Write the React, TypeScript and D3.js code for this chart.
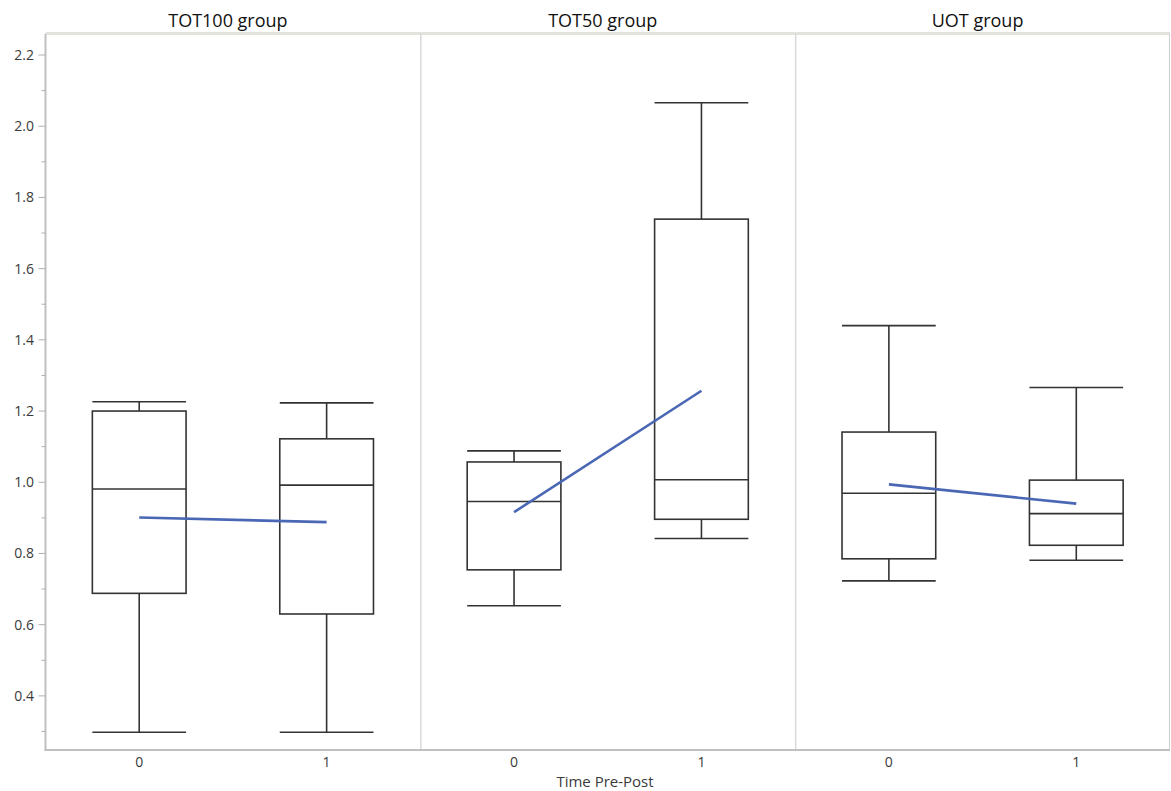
import React from 'react'
import * as d3 from 'd3'

// panels + x categories
const groups = ['TOT100 group', 'TOT50 group', 'UOT group']
const times = ['0', '1']

// box stats per group, [time 0, time 1]
const whiskerHigh = [[1.226, 1.223], [1.088, 2.066], [1.440, 1.266]]
const q3 = [[1.200, 1.122], [1.057, 1.739], [1.141, 1.006]]
const median = [[0.981, 0.992], [0.946, 1.007], [0.969, 0.912]]
const q1 = [[0.688, 0.630], [0.754, 0.896], [0.785, 0.823]]
const whiskerLow = [[0.298, 0.298], [0.653, 0.842], [0.723, 0.781]]
const means = [[0.901, 0.888], [0.916, 1.257], [0.994, 0.940]]

const xAxisTitle = 'Time Pre-Post'

const width = 1171
const height = 791
const left = 45.5
const right = 1170
const top = 34
const bottom = 750

const font = '"Open Sans", "Noto Sans", sans-serif'

export default function App() {
  const yScale = d3.scaleLinear().domain([0.248, 2.259]).range([bottom, top])
  const majorTicks = yScale.ticks(10)
  const minorTicks = yScale.ticks(20).filter(t => !majorTicks.some(m => Math.abs(m - t) < 1e-6))

  const panelScale = d3.scaleBand().domain(groups).range([left, right]).padding(0)
  const pw = panelScale.bandwidth()
  const xScale = d3.scalePoint().domain(times).range([0, pw]).padding(0.5)
  const boxW = pw / 4

  const line = d3.line<[string, number]>()
    .x(d => xScale(d[0]) as number)
    .y(d => yScale(d[1]))

  return (
    <svg width={width} height={height} style={{ position: 'absolute', left: 0, top: 0, background: '#fff' }}>
      {/* top band */}
      <rect x={left} y={top - 2} width={right - left} height={3} fill="#e4e3db" />
      {/* right border */}
      <line x1={right - 0.5} x2={right - 0.5} y1={top} y2={bottom} stroke="#d0d0d0" />

      {/* panel dividers */}
      {groups.slice(1).map(g => (
        <line key={g} x1={(panelScale(g) as number) + 0.5} x2={(panelScale(g) as number) + 0.5}
          y1={top} y2={bottom} stroke="#d9d9d9" strokeWidth={1.5} />
      ))}

      {/* y axis */}
      <line x1={left} x2={left} y1={top} y2={bottom + 1} stroke="#c0c0c0" strokeWidth={2} />
      {majorTicks.map(t => (
        <g key={'M' + t}>
          <line x1={left - 7} x2={left} y1={yScale(t)} y2={yScale(t)} stroke="#b0b0b0" strokeWidth={1} />
          <text x={34} y={yScale(t)} dy="0.35em" textAnchor="end" fontFamily={font}
            fontSize={14} fill="#3a3a3a">{t.toFixed(1)}</text>
        </g>
      ))}
      {minorTicks.map(t => (
        <line key={'m' + t} x1={left - 4} x2={left} y1={yScale(t)} y2={yScale(t)} stroke="#b0b0b0" strokeWidth={1} />
      ))}

      {/* x axis */}
      <line x1={left - 1} x2={right} y1={bottom} y2={bottom} stroke="#c0c0c0" strokeWidth={2} />

      {groups.map((g, gi) => {
        const px = panelScale(g) as number
        const pts: [string, number][] = times.map((t, ti) => [t, means[gi][ti]])
        return (
          <g key={g}>
            <text x={px + pw / 2 - 5} y={27} textAnchor="middle" fontFamily={font} fontSize={18} fill="#111">{g}</text>
            <g transform={`translate(${px},0)`}>
              {times.map((t, ti) => {
                const cx = xScale(t) as number
                const x0 = cx - boxW / 2
                const yHi = yScale(whiskerHigh[gi][ti])
                const yQ3 = yScale(q3[gi][ti])
                const yMed = yScale(median[gi][ti])
                const yQ1 = yScale(q1[gi][ti])
                const yLo = yScale(whiskerLow[gi][ti])
                return (
                  <g key={t} stroke="#333" strokeWidth={1.6} fill="none">
                    <line x1={x0} x2={x0 + boxW} y1={yHi} y2={yHi} />
                    <line x1={cx} x2={cx} y1={yHi} y2={yQ3} />
                    <rect x={x0} y={yQ3} width={boxW} height={yQ1 - yQ3} />
                    <line x1={x0} x2={x0 + boxW} y1={yMed} y2={yMed} />
                    <line x1={cx} x2={cx} y1={yQ1} y2={yLo} />
                    <line x1={x0} x2={x0 + boxW} y1={yLo} y2={yLo} />
                  </g>
                )
              })}
              <path d={line(pts) || ''} fill="none" stroke="#4a67b5" strokeWidth={2.6} />
              {times.map(t => (
                <text key={t} x={xScale(t) as number} y={762} dy="0.35em" textAnchor="middle"
                  fontFamily={font} fontSize={14} fill="#3a3a3a">{t}</text>
              ))}
            </g>
          </g>
        )
      })}

      <text x={605} y={782} dy="0.35em" textAnchor="middle" fontFamily={font}
        fontSize={15} fill="#3a3a3a">{xAxisTitle}</text>
    </svg>
  )
}
